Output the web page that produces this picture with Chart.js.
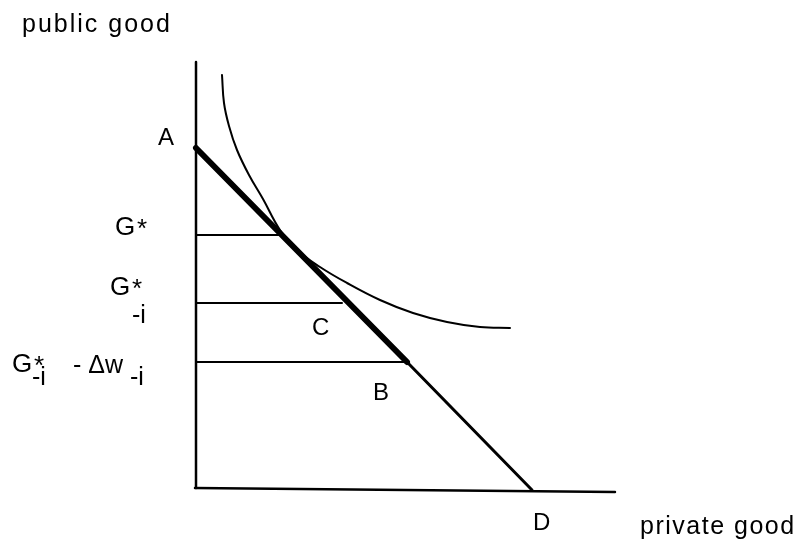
<!DOCTYPE html>
<html>
<head>
<meta charset="utf-8">
<script src="https://cdn.jsdelivr.net/npm/chart.js@4"></script>
<style>
  body { margin: 0; background: #fff; }
  #wrap { width: 799px; height: 542px; }
</style>
</head>
<body>
<div id="wrap"><canvas id="mycanvas" width="799" height="542"></canvas></div>
<script>
// axis titles and point names
var yTitle = 'public good';
var xTitle = 'private good';
var pointNames = ['A', 'B', 'C', 'D'];

// budget line A -> B (thick) and B -> D (thin), in goods units
var budgetAB = [{x: 0, y: 340}, {x: 211, y: 126}];
var budgetBD = [{x: 211, y: 126}, {x: 336, y: -2}];

// levels of public good
var gStar = 253;
var gStarMinusI = 185;
var gStarMinusIdw = 126;
var gStarEnd = 84;
var gStarMinusIEnd = 146;
var gStarMinusIdwEnd = 211;

// indifference curve, read point by point
var curveX = [26, 28, 33, 41, 53, 67, 84, 101, 124, 151, 184, 217, 251, 284, 314];
var curveY = [413, 385, 362, 338, 313, 289, 258, 238, 221, 205, 188, 175, 166, 161, 160];

var curve = [];
for (var i = 0; i < curveX.length; i++) {
    curve.push({x: curveX[i], y: curveY[i]});
}

function seg(data, width, extra) {
    var d = {
        data: data,
        borderColor: '#000',
        borderWidth: width,
        pointRadius: 0,
        fill: false,
        clip: false,
        borderCapStyle: 'round'
    };
    for (var k in extra) d[k] = extra[k];
    return d;
}

// text is placed at goods-unit positions through the scales
var textPlugin = {
    id: 'texts',
    afterDatasetsDraw: function (chart) {
        var ctx = chart.ctx;
        var xs = chart.scales.x, ys = chart.scales.y;
        function put(text, x, y, size, spacing) {
            ctx.save();
            ctx.fillStyle = '#000';
            ctx.font = size + 'px "Liberation Sans", Arial, sans-serif';
            ctx.letterSpacing = (spacing || 0) + 'px';
            ctx.textBaseline = 'alphabetic';
            ctx.textAlign = 'left';
            ctx.fillText(text, xs.getPixelForValue(x), ys.getPixelForValue(y));
            ctx.restore();
        }
        put(yTitle, -174, 456, 25, 2);
        put(xTitle, 444, -46, 25, 1.5);
        put(pointNames[0], -38, 343, 24);
        put(pointNames[1], 177, 88, 24);
        put(pointNames[2], 116, 153, 24);
        put(pointNames[3], 337, -42, 24);

        // G*
        put('G', -81, 253, 26);
        put('*', -59, 251, 26);
        // G*_-i
        put('G', -86, 193, 26);
        put('*', -64, 191, 26);
        put('-i', -64, 165, 25);
        // G*_-i - Δw_-i
        put('G', -184, 116, 26);
        put('*', -162, 114, 26);
        put('-i', -164, 103, 25);
        put('- Δw', -123, 115, 25);
        put('-i', -66, 103, 25);
    }
};

var ctx = document.getElementById('mycanvas');
var chart = new Chart(ctx, {
    type: 'line',
    data: {
        datasets: [
            seg([{x: 0, y: 0}, {x: 0, y: 426}], 2.5),
            seg([{x: -1, y: 0}, {x: 419, y: -4}], 2.5),
            seg(budgetAB, 6),
            seg(budgetBD, 3),
            seg([{x: 0, y: gStar}, {x: gStarEnd, y: gStar}], 2),
            seg([{x: 0, y: gStarMinusI}, {x: gStarMinusIEnd, y: gStarMinusI}], 2),
            seg([{x: 0, y: gStarMinusIdw}, {x: gStarMinusIdwEnd, y: gStarMinusIdw}], 2),
            seg(curve, 2, {tension: 0.4})
        ]
    },
    options: {
        responsive: false,
        animation: false,
        layout: { padding: { left: 196, right: 184, top: 62, bottom: 44 } },
        plugins: { legend: { display: false }, tooltip: { enabled: false } },
        scales: {
            x: { type: 'linear', min: 0, max: 419, display: false },
            y: { type: 'linear', min: -10, max: 426, display: false }
        }
    },
    plugins: [textPlugin]
});
</script>
</body>
</html>
